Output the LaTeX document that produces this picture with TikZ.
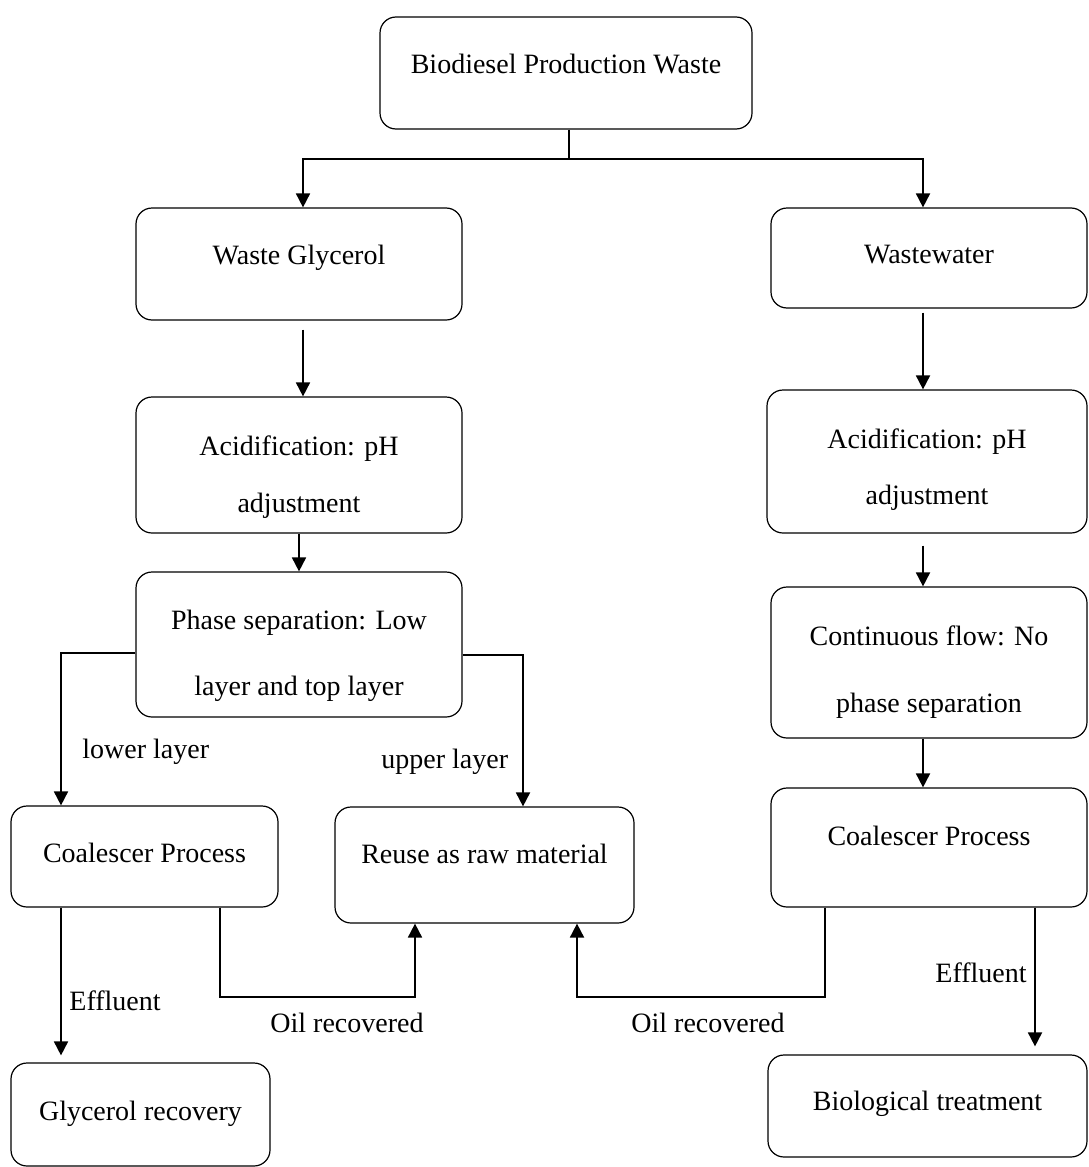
\documentclass[tikz,border=0pt]{standalone}
\usepackage{fontspec}
\setmainfont{Liberation Serif}
\usetikzlibrary{arrows.meta}

% baseline of a one-line label, lifted by #1 from the node centre
\newcommand\oneln[2]{\raisebox{#1}[0pt][0pt]{#2}}
% two centred lines; #1 lift of the last baseline, #2 baseline distance
\newcommand\twoln[4]{\raisebox{#1}[0pt][0pt]{\vbox{\baselineskip=#2\lineskiplimit=-100pt
  \halign{\hfil##\hfil\cr #3\cr #4\cr}}}}

\begin{document}
\begin{tikzpicture}[x=0.5pt, y=-0.5pt,
  font=\fontsize{14pt}{17pt}\selectfont,
  stepbox/.style={draw, line width=0.6pt, rounded corners=8pt, inner sep=0pt},
  arr/.style={line width=0.9pt, -{Triangle[length=7pt,width=7pt]}},
  link/.style={line width=0.6pt},
  tag/.style={anchor=base west, inner sep=0pt}]

\useasboundingbox (0,0) rectangle (1088,1167);

% process boxes
\node[stepbox, minimum width=186pt, minimum height=56pt] (top) at (566,73)
  {\oneln{0pt}{Biodiesel Production Waste}};
\node[stepbox, minimum width=163pt, minimum height=56pt] (wg) at (299,264)
  {\oneln{0pt}{Waste Glycerol}};
\node[stepbox, minimum width=158pt, minimum height=50pt] (ww) at (929,258)
  {\oneln{-2.5pt}{Wastewater}};
\node[stepbox, minimum width=163pt, minimum height=68pt] (acL) at (299,465)
  {\twoln{-23.5pt}{28.5pt}{Acidification: pH}{adjustment}};
\node[stepbox, minimum width=160pt, minimum height=71.5pt] (acR) at (927,461.5)
  {\twoln{-21.25pt}{28pt}{Acidification: pH}{adjustment}};
\node[stepbox, minimum width=163pt, minimum height=72.5pt] (ph) at (299,644.5)
  {\twoln{-25.25pt}{33pt}{Phase separation: Low}{layer and top layer}};
\node[stepbox, minimum width=158pt, minimum height=75.5pt] (cf) at (929,662.5)
  {\twoln{-24.75pt}{33.5pt}{Continuous flow: No}{phase separation}};
\node[stepbox, minimum width=133.5pt, minimum height=50.5pt] (coL) at (144.5,856.5)
  {\oneln{-2.75pt}{Coalescer Process}};
\node[stepbox, minimum width=149.5pt, minimum height=58pt] (reuse) at (484.5,865)
  {\oneln{1pt}{Reuse as raw material}};
\node[stepbox, minimum width=158pt, minimum height=59.5pt] (coR) at (929,847.5)
  {\oneln{1.25pt}{Coalescer Process}};
\node[stepbox, minimum width=129.5pt, minimum height=51.5pt] (gr) at (140.5,1114.5)
  {\oneln{-2.75pt}{Glycerol recovery}};
\node[stepbox, minimum width=159.5pt, minimum height=51pt] (bio) at (927.5,1106)
  {\oneln{-2pt}{Biological treatment}};

% routing points
\coordinate (split) at (569,159);
\coordinate (rcol) at (923,0);
\coordinate (lcol) at (303,0);
\coordinate (lowx) at (61,0);
\coordinate (upx) at (523,0);
\coordinate (oilL) at (220,997);
\coordinate (inL) at (415,0);
\coordinate (oilR) at (825,997);
\coordinate (inR) at (577,0);
\coordinate (effx) at (1035,0);

% top split
\draw[link] (split |- top.south) -- (split);
\draw[arr] (split) -| (lcol |- wg.north);
\draw[arr] (split) -| (rcol |- ww.north);

% glycerol branch
\draw[arr, shorten <=4.5pt] (lcol |- wg.south) -- (lcol |- acL.north);
\draw[arr] (acL.south) -- (ph.north);
\draw[arr] ([yshift=-4.25pt]ph.west) -| (lowx |- coL.north);
\draw[arr] ([yshift=-5.25pt]ph.east) -| (upx |- reuse.north);
\draw[arr, shorten >=3.5pt] (lowx |- coL.south) -- (lowx |- gr.north);
\draw[arr] (oilL |- coL.south) -- (oilL) -| (inL |- reuse.south);

% wastewater branch
\draw[arr, shorten <=2pt] (rcol |- ww.south) -- (rcol |- acR.north);
\draw[arr, shorten <=6pt] (rcol |- acR.south) -- (rcol |- cf.north);
\draw[arr] (rcol |- cf.south) -- (rcol |- coR.north);
\draw[arr] (oilR |- coR.south) -- (oilR) -| (inR |- reuse.south);
\draw[arr, shorten >=4pt] (effx |- coR.south) -- (effx |- bio.north);

% connector labels
\node[tag] (lbLow) at (82,758) {lower layer};
\node[tag] (lbUp) at (381,768) {upper layer};
\node[tag] (lbEffL) at (69,1010) {Effluent};
\node[tag] (lbOilL) at (270,1032) {Oil recovered};
\node[tag] (lbOilR) at (631,1032) {Oil recovered};
\node[tag] (lbEffR) at (935,982) {Effluent};
\end{tikzpicture}
\end{document}
